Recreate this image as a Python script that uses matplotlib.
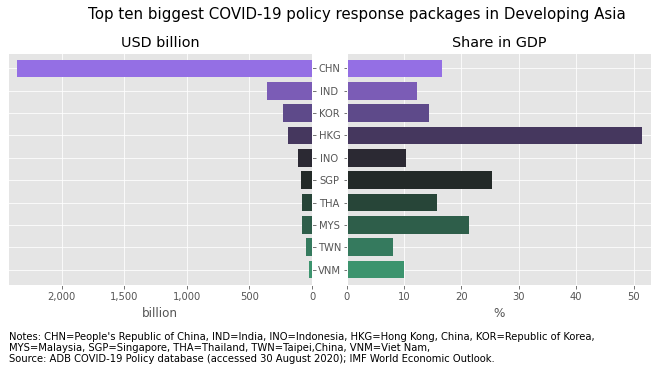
import matplotlib
matplotlib.use("Agg")
import matplotlib.pyplot as plt
import numpy as np

plt.style.use("ggplot")

countries = ["CHN", "IND", "KOR", "HKG", "INO", "SGP", "THA", "MYS", "TWN", "VNM"]
usd_billion = [2358, 360, 231, 191, 112, 88, 80, 80, 48, 24]
share_gdp = [16.6, 12.3, 14.4, 51.5, 10.3, 25.3, 15.8, 21.3, 8.1, 10.0]
colors = ["#946fe4", "#7b5cb6", "#5e4a8a", "#45375e", "#2b2933",
          "#232a28", "#274538", "#2e5e4a", "#357a5e", "#3c946e"]

W, H, DPI = 657, 373, 72
fig = plt.figure(figsize=(W / DPI, H / DPI), dpi=DPI)

def fx(px):
    return px / W

def fy(py):
    return 1 - py / H

top, bottom = 53, 285
axL = fig.add_axes([fx(8), fy(bottom), fx(312 - 8), (bottom - top) / H])
axR = fig.add_axes([fx(346.7), fy(bottom), fx(651 - 346.7), (bottom - top) / H])

y = np.arange(len(countries))

axL.barh(y, usd_billion, color=colors, height=0.8, edgecolor="none")
axR.barh(y, share_gdp, color=colors, height=0.8, edgecolor="none")

for ax in (axL, axR):
    ax.margins(x=0.03, y=0.03)
    ax.set_yticks(y)
    ax.invert_yaxis()

axL.invert_xaxis()
axL.yaxis.tick_right()
axL.set_yticklabels([])
axL.xaxis.set_major_formatter(matplotlib.ticker.FuncFormatter(lambda v, p: f"{v:,.0f}"))

axR.set_yticklabels(countries, ha="center")
axR.tick_params(axis="y", pad=13.8)

axL.set_title("USD billion", fontsize=14.4)
axR.set_title("Share in GDP", fontsize=14.4)
axL.set_xlabel("billion", fontsize=12, labelpad=5)
axR.set_xlabel("%", fontsize=12, labelpad=5)

fig.text(fx(357), fy(14.5), "Top ten biggest COVID-19 policy response packages in Developing Asia",
         ha="center", va="center", fontsize=15)

notes = ("Notes: CHN=People's Republic of China, IND=India, INO=Indonesia, HKG=Hong Kong, China, KOR=Republic of Korea,\n"
         "MYS=Malaysia, SGP=Singapore, THA=Thailand, TWN=Taipei,China, VNM=Viet Nam,\n"
         "Source: ADB COVID-19 Policy database (accessed 30 August 2020); IMF World Economic Outlook.")
fig.text(fx(9), fy(332), notes, ha="left", va="top", fontsize=10, linespacing=1.15)

fig.savefig("out.png", dpi=DPI)
